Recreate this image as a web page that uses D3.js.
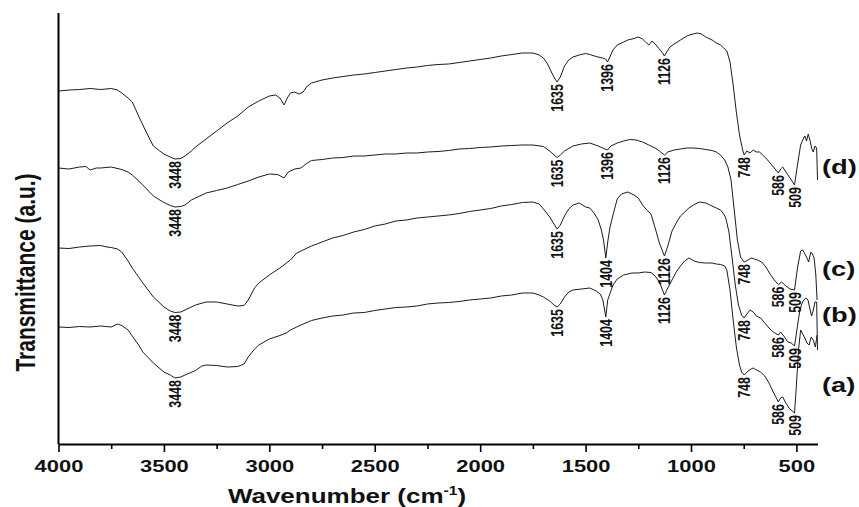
<!DOCTYPE html>
<html>
<head>
<meta charset="utf-8">
<script src="https://cdn.jsdelivr.net/npm/d3@7"></script>
<style>
  html, body { margin: 0; padding: 0; background: #fff; }
  svg { display: block; }
</style>
</head>
<body>
<svg id="chart" width="859" height="507"></svg>
<script>
// FTIR spectra, [wavenumber (cm-1), transmittance (a.u.)]
const spectrumA = [[4000,23.4],[3950,23.3],[3900,23.5],[3850,23.4],[3800,23.6],[3750,23.4],[3720,24.0],[3700,23.7],[3670,22.8],[3650,21.6],[3620,19.8],[3600,18.4],[3550,16.2],[3500,14.4],[3470,13.8],[3448,13.2],[3420,13.4],[3400,13.8],[3350,14.7],[3320,15.6],[3300,15.8],[3250,15.7],[3200,15.4],[3150,15.5],[3120,16.0],[3100,17.4],[3070,19.0],[3050,19.8],[3000,21.0],[2950,21.7],[2920,22.2],[2900,22.8],[2850,23.8],[2800,24.7],[2750,25.2],[2700,25.6],[2650,25.8],[2600,26.2],[2550,26.3],[2500,26.7],[2450,27.0],[2400,27.3],[2350,27.4],[2300,27.6],[2250,28.0],[2200,28.2],[2150,28.3],[2100,28.5],[2050,28.8],[2000,29.0],[1950,29.2],[1900,29.6],[1850,29.8],[1800,30.2],[1750,30.2],[1720,29.8],[1700,29.4],[1670,28.6],[1650,27.8],[1635,27.4],[1620,28.0],[1600,29.4],[1580,30.4],[1560,30.8],[1520,31.0],[1480,31.2],[1450,30.6],[1430,30.0],[1418,28.8],[1404,25.4],[1395,28.8],[1385,30.0],[1370,31.8],[1350,33.0],[1320,33.8],[1280,34.2],[1250,34.2],[1220,34.4],[1190,34.3],[1170,33.6],[1150,32.4],[1126,29.8],[1110,31.2],[1090,32.8],[1070,34.4],[1050,35.6],[1030,36.6],[1010,37.2],[985,36.6],[960,36.3],[930,36.2],[900,36.2],[880,36.0],[860,35.9],[840,35.6],[830,34.8],[815,30.8],[800,24.8],[785,19.4],[770,15.8],[760,14.4],[748,13.8],[730,14.6],[715,15.0],[705,15.2],[690,14.8],[670,14.4],[650,13.6],[630,12.2],[610,10.4],[595,9.2],[586,8.4],[575,9.2],[565,9.4],[550,8.2],[535,7.2],[520,6.6],[509,6.2],[500,11.8],[490,18.8],[480,22.8],[470,22.0],[460,21.2],[450,20.2],[440,19.8],[430,21.4],[420,20.8],[410,19.4],[402,21.8]];

const spectrumB = [[4000,39.2],[3950,39.1],[3900,39.4],[3850,39.6],[3800,39.7],[3770,39.4],[3750,39.3],[3720,39.0],[3700,38.4],[3670,36.6],[3650,35.2],[3620,33.4],[3600,32.2],[3550,29.4],[3500,27.4],[3470,26.6],[3448,26.3],[3420,26.4],[3400,26.8],[3350,27.8],[3300,28.4],[3250,28.4],[3200,28.0],[3150,27.6],[3120,27.7],[3100,28.8],[3070,31.2],[3050,32.2],[3000,33.8],[2950,35.2],[2900,36.8],[2870,38.2],[2850,38.6],[2800,39.6],[2750,40.4],[2700,41.2],[2650,41.7],[2600,42.4],[2550,42.9],[2500,43.6],[2450,44.0],[2400,44.6],[2350,44.8],[2300,45.2],[2250,45.4],[2200,45.6],[2150,45.8],[2100,46.1],[2050,46.5],[2000,46.8],[1950,47.1],[1900,47.6],[1850,47.9],[1800,48.3],[1750,48.4],[1720,48.0],[1700,47.0],[1670,45.4],[1650,44.0],[1635,43.0],[1620,43.8],[1600,45.6],[1580,47.0],[1560,47.8],[1530,48.2],[1500,47.4],[1480,47.2],[1460,46.2],[1440,44.8],[1425,42.8],[1415,40.8],[1404,37.2],[1395,40.4],[1385,43.2],[1370,45.8],[1350,49.0],[1330,50.0],[1300,50.4],[1270,49.8],[1250,49.2],[1230,47.8],[1210,46.8],[1190,46.0],[1170,43.2],[1150,40.2],[1126,37.6],[1110,39.6],[1090,42.6],[1070,44.2],[1050,45.6],[1030,46.4],[1010,47.2],[980,48.0],[960,48.4],[930,48.2],[900,47.6],[880,47.2],[860,46.8],[845,46.0],[835,45.2],[820,42.4],[805,37.2],[790,31.8],[775,27.8],[760,25.8],[748,25.2],[735,26.0],[720,26.8],[705,26.4],[690,25.6],[670,25.2],[650,24.2],[630,23.2],[610,22.4],[586,21.8],[575,22.4],[560,21.6],[540,20.4],[525,20.2],[509,19.6],[495,23.6],[485,26.4],[475,28.0],[465,28.8],[455,29.2],[445,28.8],[437,27.2],[428,25.6],[420,26.8],[412,28.4],[404,28.4],[400,18.8]];

const spectrumC = [[4000,55.2],[3950,55.0],[3900,55.4],[3870,55.5],[3850,54.8],[3820,55.2],[3800,55.2],[3750,55.4],[3700,54.9],[3670,54.4],[3650,53.8],[3620,52.6],[3600,51.8],[3550,49.6],[3500,48.3],[3470,47.7],[3448,47.4],[3420,47.5],[3400,47.8],[3370,48.8],[3350,49.2],[3300,50.2],[3250,50.7],[3200,51.2],[3150,51.9],[3100,52.6],[3050,53.4],[3000,54.0],[2960,53.9],[2930,53.2],[2910,54.4],[2880,55.0],[2850,55.2],[2820,56.2],[2800,56.7],[2750,56.9],[2700,57.2],[2650,57.3],[2600,57.6],[2550,57.6],[2500,57.8],[2450,58.0],[2400,58.0],[2350,58.2],[2300,58.2],[2250,58.4],[2200,58.5],[2150,58.7],[2100,59.0],[2050,59.1],[2000,59.3],[1950,59.4],[1900,59.6],[1850,59.7],[1800,59.8],[1750,59.8],[1700,59.5],[1670,58.6],[1650,57.8],[1635,57.3],[1620,57.8],[1600,58.6],[1560,59.6],[1520,60.0],[1480,60.2],[1440,59.6],[1420,59.2],[1396,58.8],[1380,59.6],[1350,60.2],[1320,60.6],[1290,60.9],[1260,60.8],[1230,60.4],[1200,59.8],[1170,59.2],[1150,58.6],[1126,57.8],[1110,58.4],[1080,58.8],[1050,59.0],[1020,59.2],[990,59.2],[960,59.1],[930,58.9],[900,58.7],[880,58.4],[860,57.8],[840,56.8],[825,55.4],[810,52.8],[795,46.8],[780,40.8],[765,37.4],[748,36.4],[730,36.8],[715,37.2],[700,37.0],[685,36.8],[665,36.4],[645,35.4],[625,34.0],[605,32.8],[586,31.9],[570,32.4],[550,31.6],[530,31.0],[509,30.8],[495,35.2],[480,38.6],[470,38.8],[460,38.0],[450,37.2],[442,36.4],[432,38.4],[424,38.0],[416,37.2],[408,33.8],[402,28.8]];

const spectrumD = [[4000,70.6],[3950,70.8],[3900,70.9],[3850,71.1],[3800,70.9],[3750,71.1],[3720,70.8],[3700,70.2],[3670,69.2],[3650,68.4],[3620,65.6],[3600,63.8],[3570,61.2],[3550,59.6],[3520,58.6],[3500,58.0],[3470,57.4],[3448,57.0],[3420,57.1],[3400,57.6],[3370,58.6],[3350,59.4],[3300,61.0],[3250,62.6],[3200,64.2],[3150,65.6],[3100,67.4],[3050,68.6],[3000,69.6],[2970,69.8],[2950,69.2],[2930,67.8],[2915,69.2],[2900,70.2],[2880,70.4],[2860,70.0],[2840,70.4],[2820,71.6],[2800,72.2],[2750,72.8],[2700,73.2],[2650,73.5],[2600,73.8],[2550,74.0],[2500,74.3],[2450,74.6],[2400,74.9],[2350,75.2],[2300,75.4],[2250,75.7],[2200,75.9],[2150,76.0],[2100,76.3],[2050,76.6],[2000,76.9],[1950,77.2],[1900,77.6],[1850,77.9],[1800,78.2],[1750,78.2],[1720,77.8],[1700,77.2],[1680,76.0],[1660,74.2],[1645,73.0],[1635,72.4],[1620,73.4],[1600,75.6],[1580,76.8],[1560,77.4],[1530,77.8],[1500,78.1],[1480,77.9],[1450,77.5],[1420,77.2],[1405,77.0],[1396,76.4],[1385,77.4],[1370,78.8],[1350,79.8],[1320,80.4],[1300,80.8],[1270,81.1],[1250,81.4],[1230,81.0],[1215,80.4],[1200,79.8],[1185,80.6],[1170,80.0],[1150,79.0],[1135,78.2],[1126,77.6],[1115,78.4],[1100,79.4],[1080,80.0],[1050,80.8],[1020,81.6],[1000,81.9],[970,82.2],[950,82.0],[930,81.4],[900,80.8],[880,80.2],[860,79.8],[845,79.2],[830,78.6],[815,76.4],[800,71.8],[785,66.4],[770,61.8],[755,58.8],[748,57.8],[735,58.6],[720,58.2],[705,58.8],[690,58.4],[675,58.4],[660,57.8],[645,57.2],[625,56.2],[605,55.2],[586,54.2],[575,55.0],[565,55.4],[550,54.4],[530,53.2],[509,51.8],[495,55.8],[480,59.8],[470,60.8],[460,61.6],[452,60.6],[444,62.0],[436,60.8],[428,59.2],[420,58.4],[412,59.6],[404,59.2],[400,52.8]];

// assigned band positions (cm-1)
const peaksA = [3448, 1635, 1404, 1126, 748, 586, 509];
const peaksB = [3448, 1635, 1404, 1126, 748, 586, 509];
const peaksC = [3448, 1635, 1396, 1126, 748, 586, 509];
const peaksD = [3448, 1635, 1396, 1126, 748, 586, 509];

const seriesNames = ["(a)", "(b)", "(c)", "(d)"];
const majorTicks = [4000, 3500, 3000, 2500, 2000, 1500, 1000, 500];
const minorTicks = [3750, 3250, 2750, 2250, 1750, 1250, 750];

const FONT = "Arial, 'Liberation Sans', Helvetica, sans-serif";
const STRETCH = 1.33;   // glyphs are drawn a little wide

const x = d3.scaleLinear().domain([4000, 400]).range([58.5, 817.5]);
const y = d3.scaleLinear().domain([0, 86.2]).range([444, 13]);

const svg = d3.select("#chart");

const spectra = [
  { name: seriesNames[0], data: spectrumA, peaks: peaksA, tagY: 391.5 },
  { name: seriesNames[1], data: spectrumB, peaks: peaksB, tagY: 322 },
  { name: seriesNames[2], data: spectrumC, peaks: peaksC, tagY: 275.5 },
  { name: seriesNames[3], data: spectrumD, peaks: peaksD, tagY: 174 }
];

// spectra
const line = d3.line().x(d => x(d[0])).y(d => y(d[1]));
svg.append("g").selectAll("path")
  .data(spectra)
  .join("path")
  .attr("d", d => line(d.data))
  .attr("fill", "none")
  .attr("stroke", "#1c1c1c")
  .attr("stroke-width", 1)
  .attr("stroke-linejoin", "round");

function valueAt(data, w) {
  for (let i = 0; i < data.length - 1; i++) {
    const [w0, v0] = data[i], [w1, v1] = data[i + 1];
    if (w <= w0 && w >= w1) {
      const t = w0 === w1 ? 0 : (w0 - w) / (w0 - w1);
      return v0 + (v1 - v0) * t;
    }
  }
  return data[data.length - 1][1];
}

// band labels, written upward just below each minimum
spectra.forEach(s => {
  svg.append("g").selectAll("text")
    .data(s.peaks)
    .join("text")
    .attr("transform", w => `translate(${x(w)},${y(valueAt(s.data, w)) + 2}) scale(${STRETCH},1) rotate(-90)`)
    .attr("text-anchor", "end")
    .attr("dy", "0.36em")
    .attr("font-family", FONT)
    .attr("font-weight", "bold")
    .attr("font-size", 12.5)
    .attr("fill", "#111")
    .text(w => w);
});

// sample tags on the right
svg.append("g").selectAll("text")
  .data(spectra)
  .join("text")
  .attr("transform", d => `translate(822,${d.tagY}) scale(1.3,1)`)
  .attr("font-family", FONT)
  .attr("font-weight", "bold")
  .attr("font-size", 21)
  .attr("fill", "#111")
  .text(d => d.name);

// x axis
const gx = svg.append("g").attr("transform", `translate(0,${y(0)})`)
  .call(d3.axisBottom(x).tickValues(majorTicks).tickSize(8).tickSizeOuter(0).tickFormat(d3.format("d")));
gx.select(".domain").attr("stroke", "#000").attr("stroke-width", 2);
gx.selectAll(".tick line").attr("stroke", "#000").attr("stroke-width", 1.6);
gx.selectAll(".tick text")
  .attr("y", 28).attr("dy", 0)
  .attr("transform", `scale(${STRETCH},1)`)
  .attr("font-family", FONT)
  .attr("font-weight", "bold")
  .attr("font-size", 16.5)
  .attr("fill", "#111");

const gm = svg.append("g").attr("transform", `translate(0,${y(0)})`)
  .call(d3.axisBottom(x).tickValues(minorTicks).tickSize(5).tickSizeOuter(0).tickFormat(""));
gm.select(".domain").remove();
gm.selectAll(".tick line").attr("stroke", "#000").attr("stroke-width", 1.6);

// y axis (no ticks)
svg.append("line")
  .attr("x1", x(4000)).attr("x2", x(4000))
  .attr("y1", y(86.2)).attr("y2", y(0))
  .attr("stroke", "#000").attr("stroke-width", 2);

// axis titles
const xt = svg.append("text")
  .attr("transform", `translate(347,503) scale(1.3,1)`)
  .attr("text-anchor", "middle")
  .attr("font-family", FONT)
  .attr("font-weight", "bold")
  .attr("font-size", 20)
  .attr("fill", "#111");
xt.append("tspan").text("Wavenumber (cm");
xt.append("tspan").attr("font-size", 12).attr("dy", -8).text("-1");
xt.append("tspan").attr("dy", 8).text(")");

svg.append("text")
  .attr("transform", `translate(35,272.5) scale(${STRETCH},1) rotate(-90)`)
  .attr("text-anchor", "middle")
  .attr("font-family", FONT)
  .attr("font-weight", "bold")
  .attr("font-size", 21)
  .attr("fill", "#111")
  .text("Transmittance (a.u.)");
</script>
</body>
</html>
